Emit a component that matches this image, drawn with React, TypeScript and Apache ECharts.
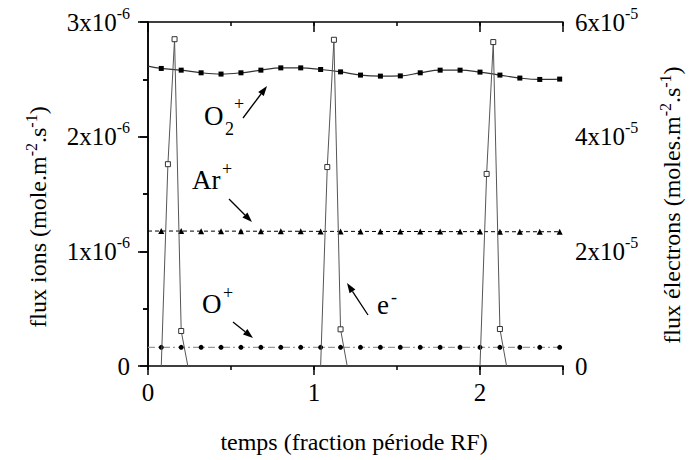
import React, { useEffect, useRef } from "react";
import * as echarts from "echarts";

// time (fraction of RF period) of the marked points of the ion curves
const tIons = [0.08, 0.2, 0.32, 0.44, 0.56, 0.68, 0.8, 0.92, 1.04, 1.16, 1.28, 1.4, 1.52, 1.64, 1.76, 1.88, 2.0, 2.12, 2.24, 2.36, 2.48];
// ion fluxes, in 1e-6 mole.m-2.s-1
const o2Start = 2.615;
const o2Flux = [2.595, 2.58, 2.557, 2.546, 2.557, 2.58, 2.6, 2.6, 2.586, 2.565, 2.537, 2.528, 2.53, 2.557, 2.58, 2.58, 2.563, 2.537, 2.511, 2.499, 2.502];
const arStart = 1.177;
const arFlux = [1.177, 1.177, 1.176, 1.176, 1.176, 1.175, 1.175, 1.175, 1.174, 1.174, 1.174, 1.173, 1.173, 1.173, 1.172, 1.172, 1.172, 1.171, 1.171, 1.171, 1.171];
const oStart = 0.163;
const oFlux = [0.163, 0.163, 0.163, 0.163, 0.163, 0.163, 0.163, 0.163, 0.163, 0.163, 0.163, 0.163, 0.163, 0.163, 0.163, 0.163, 0.163, 0.163, 0.163, 0.163, 0.163];
// electron flux, in 1e-5 moles.m-2.s-1 ('-' = gap between pulses)
const tElec = [0.08, 0.12, 0.16, 0.2, 0.24, 0.64, 1.04, 1.08, 1.12, 1.16, 1.2, 1.6, 2.0, 2.04, 2.08, 2.12, 2.16];
const eFlux: (number | string)[] = [0, 3.52, 5.7, 0.61, 0, "-", 0, 3.47, 5.69, 0.64, 0, "-", 0, 3.35, 5.65, 0.645, 0];

// tick labels: [mantissa part, exponent]
const leftTicks: [string, string][] = [["0", ""], ["1x10", "-6"], ["2x10", "-6"], ["3x10", "-6"]];
const rightTicks: [string, string][] = [["0", ""], ["", ""], ["2x10", "-5"], ["", ""], ["4x10", "-5"], ["", ""], ["6x10", "-5"]];

const FONT = "Liberation Serif";

function arrow(x1: number, y1: number, x2: number, y2: number) {
  const dx = x2 - x1, dy = y2 - y1;
  const L = Math.hypot(dx, dy);
  const ux = dx / L, uy = dy / L;
  const hl = 10, hw = 3.5;
  const bx = x2 - ux * hl, by = y2 - uy * hl;
  return [
    { type: "line", shape: { x1, y1, x2: bx, y2: by }, style: { stroke: "#000", lineWidth: 1.3 } },
    {
      type: "polygon",
      shape: { points: [[x2, y2], [bx - uy * hw, by + ux * hw], [bx + uy * hw, by - ux * hw]] },
      style: { fill: "#000" },
    },
  ];
}

function txt(x: number, y: number, text: string, size: number, align = "left") {
  return {
    type: "text",
    x,
    y,
    style: { text, fontFamily: FONT, fontSize: size, fill: "#000", align, verticalAlign: "middle" },
  };
}

const supRich = {
  m: { fontFamily: FONT, fontSize: 25, lineHeight: 34, color: "#000" },
  s: { fontFamily: FONT, fontSize: 16, lineHeight: 16, verticalAlign: "top", color: "#000" },
};

function tickText(t: [string, string]) {
  if (!t[0]) return "";
  return "{m|" + t[0] + "}" + (t[1] ? "{s|" + t[1] + "}" : "");
}

export default function App() {
  const ref = useRef<HTMLDivElement>(null);
  useEffect(() => {
    const chart = echarts.init(ref.current!, null, { renderer: "svg" });
    const axisLine = { show: true, lineStyle: { color: "#000", width: 1.5 } };
    const tickStyle = { color: "#000", width: 1.5 };
    const base = { type: "value", min: 0, max: 2.5, splitLine: { show: false } };
    const option: any = {
      animation: false,
      backgroundColor: "#fff",
      grid: { left: 148, right: 135, top: 22, bottom: 94 },
      xAxis: [
        { ...base, position: "bottom", interval: 0.5, axisLine, axisTick: { show: true, inside: false, length: 4, lineStyle: tickStyle }, axisLabel: { show: false } },
        {
          ...base, position: "bottom", interval: 1, axisLine: { show: false },
          axisTick: { show: true, inside: false, length: 9, lineStyle: tickStyle },
          axisLabel: {
            show: true, margin: 14, fontFamily: FONT, fontSize: 25, color: "#000",
            formatter: (v: number) => (Number.isInteger(v) ? String(v) : ""),
          },
        },
        { ...base, position: "top", interval: 0.5, axisLine, axisTick: { show: true, inside: true, length: 4, lineStyle: tickStyle }, axisLabel: { show: false } },
        { ...base, position: "top", interval: 1, axisLine: { show: false }, axisTick: { show: true, inside: true, length: 10, lineStyle: tickStyle }, axisLabel: { show: false } },
      ],
      yAxis: [
        {
          type: "value", position: "left", min: 0, max: 3, interval: 1, splitLine: { show: false },
          axisLine, axisTick: { show: true, inside: false, length: 8, lineStyle: tickStyle },
          minorTick: { show: true, splitNumber: 2, length: 5, lineStyle: tickStyle },
          axisLabel: {
            margin: 18, align: "right",
            formatter: (v: number) => tickText(leftTicks[Math.round(v)]),
            rich: supRich,
          },
        },
        {
          type: "value", position: "right", min: 0, max: 6, interval: 2, splitLine: { show: false },
          axisLine, axisTick: { show: true, inside: true, length: 10, lineStyle: tickStyle },
          minorTick: { show: true, splitNumber: 2, length: 5, lineStyle: tickStyle },
          axisLabel: {
            margin: 12, align: "left",
            formatter: (v: number) => tickText(rightTicks[Math.round(v)]),
            rich: supRich,
          },
        },
      ],
      series: [
        {
          name: "O2+", type: "line", xAxisIndex: 0, yAxisIndex: 0, smooth: 0.4,
          data: [{ value: [0, o2Start], symbol: "none" }, ...tIons.map((t, i) => [t, o2Flux[i]])],
          symbol: "rect", symbolSize: 5, itemStyle: { color: "#000" },
          lineStyle: { color: "#333", width: 1.2 }, z: 3,
        },
        {
          name: "Ar+", type: "line", xAxisIndex: 0, yAxisIndex: 0,
          data: [{ value: [0, arStart], symbol: "none" }, ...tIons.map((t, i) => [t, arFlux[i]])],
          symbol: "triangle", symbolSize: 6, itemStyle: { color: "#000" },
          lineStyle: { color: "#000", width: 1, type: [4, 3] }, z: 3,
        },
        {
          name: "O+", type: "line", xAxisIndex: 0, yAxisIndex: 0,
          data: [{ value: [0, oStart], symbol: "none" }, ...tIons.map((t, i) => [t, oFlux[i]])],
          symbol: "circle", symbolSize: 5, itemStyle: { color: "#000" },
          lineStyle: { color: "#999", width: 1.3, type: [7, 3, 2, 3] }, z: 3,
        },
        {
          name: "e-", type: "line", xAxisIndex: 0, yAxisIndex: 1, connectNulls: false,
          data: tElec.map((t, i) => (eFlux[i] === 0 ? { value: [t, 0], symbol: "none" } : [t, eFlux[i]])),
          symbol: "rect", symbolSize: 5, showAllSymbol: true,
          itemStyle: { color: "#fff", borderColor: "#333", borderWidth: 1 },
          lineStyle: { color: "#555", width: 1 }, z: 4,
        },
      ],
      graphic: [
        // axis titles
        {
          type: "text", x: 38, y: 217, rotation: Math.PI / 2,
          style: {
            text: "{m|flux ions (mole.m}{s|-2}{m|.s}{s|-1}{m|)}",
            rich: { m: { ...supRich.m, fontSize: 24, lineHeight: 30 }, s: supRich.s },
            align: "center", verticalAlign: "middle",
          },
        },
        {
          type: "text", x: 672, y: 205, rotation: Math.PI / 2,
          style: {
            text: "{m|flux électrons (moles.m}{s|-2}{m|.s}{s|-1}{m|)}",
            rich: { m: { ...supRich.m, fontSize: 24, lineHeight: 30 }, s: supRich.s },
            align: "center", verticalAlign: "middle",
          },
        },
        txt(354, 442, "temps (fraction période RF)", 24, "center"),
        // annotations
        txt(204, 116, "O", 27),
        txt(225, 129, "2", 18),
        txt(234, 104, "+", 18),
        ...arrow(243, 118, 267, 86),
        txt(192, 180, "Ar", 27),
        txt(222, 169, "+", 18),
        ...arrow(229, 199, 252, 222),
        txt(202, 304, "O", 27),
        txt(223, 293, "+", 18),
        ...arrow(233, 322, 253, 338),
        txt(377, 305, "e", 27),
        txt(391, 297, "-", 18),
        ...arrow(368, 315, 347, 283),
      ],
    };
    chart.setOption(option);
    return () => chart.dispose();
  }, []);
  return <div ref={ref} style={{ position: "absolute", left: 0, top: 0, width: 698, height: 460 }} />;
}
